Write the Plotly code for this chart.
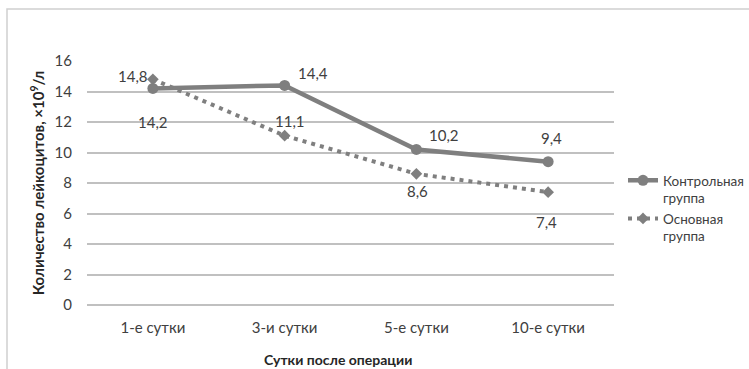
import plotly.graph_objects as go

days = ["1-е сутки", "3-и сутки", "5-е сутки", "10-е сутки"]
control = [14.2, 14.4, 10.2, 9.4]
main = [14.8, 11.1, 8.6, 7.4]
series_names = ["Контрольная<br>группа", "Основная<br>группа"]

# pixel offsets of each value label relative to its point
control_offsets = [(0, -34), (28, 12), (28, 14), (3, 24)]
main_offsets = [(-20, 3), (5, 15), (1, -17), (-2, -30)]

FONT = "Lato, Open Sans, sans-serif"
TXT = "#404040"
LINE = "#7f7f7f"

# plot area in pixels
W, H = 749, 369
PL, PR, PT, PB = 87, 614, 61, 305
PW, PH = PR - PL, PB - PT

fig = go.Figure()
fig.add_trace(go.Scatter(
    x=days, y=control, name=series_names[0], mode="lines+markers",
    line=dict(color=LINE, width=4.5),
    marker=dict(symbol="circle", size=11, color=LINE),
))
fig.add_trace(go.Scatter(
    x=days, y=main, name=series_names[1], mode="lines+markers",
    line=dict(color=LINE, width=4, dash="4px,5px"),
    marker=dict(symbol="diamond", size=9, color=LINE),
))

def fmt(v):
    return f"{v:.1f}".replace(".", ",")

for vals, offs in ((control, control_offsets), (main, main_offsets)):
    for d, v, (dx, dy) in zip(days, vals, offs):
        fig.add_annotation(
            x=d, y=v, xref="x", yref="y", text=fmt(v), showarrow=False,
            xshift=dx, yshift=dy, font=dict(family=FONT, size=15, color=TXT),
        )

fig.add_annotation(
    x=(338 - PL) / PW, y=(PB - 359) / PH, xref="paper", yref="paper",
    text="<b>Сутки после операции</b>", showarrow=False,
    xanchor="center", yanchor="middle",
    font=dict(family=FONT, size=14, color="#262626"),
)

fig.update_layout(
    width=W, height=H,
    margin=dict(l=PL, r=W - PR, t=PT, b=H - PB, autoexpand=False),
    paper_bgcolor="white", plot_bgcolor="white",
    font=dict(family=FONT, size=15, color=TXT),
    showlegend=True,
    legend=dict(
        xref="container", yref="container",
        x=623 / W, xanchor="left", y=1 - 165 / H, yanchor="top",
        font=dict(family=FONT, size=13.5, color=TXT),
        valign="top", tracegroupgap=0, itemwidth=30,
        bgcolor="rgba(0,0,0,0)",
    ),
    shapes=[dict(
        type="rect", xref="paper", yref="paper",
        x0=-80 / PW, x1=(1000 - PL) / PW, y0=(PB - 500) / PH, y1=(PB - 9) / PH,
        line=dict(color="#d0d0d0", width=1.5), fillcolor="rgba(0,0,0,0)",
        layer="below",
    )],
)

fig.update_xaxes(
    type="category", range=[-0.5, 3.5], showgrid=False, showline=False,
    zeroline=False, ticks="", tickfont=dict(family=FONT, size=15, color=TXT),
    ticklabelstandoff=12,
)
fig.update_yaxes(
    range=[0, 16], dtick=2, showgrid=True, gridcolor="#c0c0c0", gridwidth=1.8,
    zeroline=True, zerolinecolor="#c0c0c0", zerolinewidth=1.8,
    showline=False, ticks="", tickfont=dict(family=FONT, size=15, color=TXT),
    ticklabelstandoff=14,
    title=dict(text="<b>Количество лейкоцитов, ×10<sup>9</sup>/л</b>",
               font=dict(family=FONT, size=15, color="#262626"), standoff=6),
)

fig.write_html("out.html")
